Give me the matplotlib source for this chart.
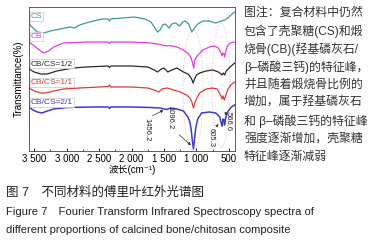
import matplotlib.pyplot as plt
from matplotlib.patches import Ellipse
import numpy as np

plt.rcParams["font.family"] = ["Liberation Sans", "Noto Sans CJK SC", "DejaVu Sans"]

W, H = 381, 243

# wavenumber (cm-1) and transmittance (arbitrary, offset per curve)
cs_wn = [3580, 3520, 3450, 3350, 3250, 3100, 2950, 2880, 2800, 2650, 2450, 2360, 2340, 2320, 2150,
         1950, 1800, 1700, 1650, 1600, 1560, 1520, 1480, 1420, 1380, 1320, 1260, 1210, 1170, 1120,
         1070, 1030, 980, 900, 800, 700, 620, 560, 500, 450, 410]
cs_y = [24, 28, 32, 33, 31, 29, 27, 28, 25, 22, 19, 19, 21, 19, 18,
        17, 19, 22, 27, 32, 30, 25, 24, 28, 24, 23, 26, 22, 21, 24,
        32, 28, 24, 21, 21, 23, 21, 20, 17, 14, 12]

cb_wn = [3580, 3500, 3420, 3350, 3280, 3200, 3050, 2700, 2360, 2340, 2320, 2000, 1700, 1600, 1460,
         1420, 1300, 1200, 1120, 1080, 1060, 1040, 1025, 1000, 960, 900, 800, 720, 660, 620,
         605, 590, 575, 565, 555, 530, 480, 410]
cb_y = [42, 46, 50, 53, 51, 47, 43, 42, 42, 43.5, 42, 42, 43, 44, 46,
        45.5, 47, 50, 54, 58, 63, 68, 60, 57, 54, 50, 47, 46, 48, 53,
        56, 53, 54, 57, 54, 47, 43, 42]

r12_wn = [3580, 3500, 3400, 3300, 3150, 2900, 2700, 2360, 2340, 2320, 2000, 1750, 1650, 1600, 1540,
          1500, 1440, 1380, 1300, 1250, 1200, 1130, 1080, 1050, 1035, 1000, 950, 850, 750, 660,
          620, 605, 585, 565, 540, 480, 410]
r12_y = [69, 72, 74, 74, 71, 68, 67, 66, 67.5, 66, 66, 67, 70, 72, 69,
         68, 72, 70, 68, 70, 72, 74, 78, 83, 80, 75, 73, 71, 70, 72,
         74, 75, 73, 75, 71, 67, 63]

r11_wn = [3580, 3500, 3400, 3330, 3200, 3050, 2800, 2500, 2360, 2340, 2320, 2000, 1750, 1650, 1580,
          1530, 1450, 1350, 1250, 1150, 1100, 1070, 1045, 1025, 1000, 950, 850, 750, 680, 620,
          605, 590, 570, 555, 520, 470, 410]
r11_y = [88, 91, 93, 93, 91, 89, 88, 87, 86.5, 85, 87, 87, 88, 90, 92,
         89, 88, 90, 92, 95, 98, 102, 108, 103, 99, 93, 89, 88, 89, 96,
         99, 96, 100, 97, 90, 85, 82]

r21_wn = [3580, 3520, 3450, 3380, 3300, 3200, 3000, 2600, 2360, 2340, 2320, 2000, 1700, 1560, 1500,
          1456, 1400, 1300, 1200, 1130, 1100, 1080, 1060, 1045, 1030, 1010, 980, 920, 800, 700,
          640, 615, 605, 590, 575, 566, 550, 510, 460, 410]
r21_y = [107, 110, 112, 113, 111, 109, 107.5, 107, 107, 108.5, 107, 107, 107.5, 108, 109,
         109.5, 108, 109, 111, 117, 122, 130, 142, 149, 140, 128, 119, 113, 112, 113,
         117, 124, 126, 119, 120, 125, 118, 111, 107, 105]

series = [
    ("CS", cs_wn, cs_y, "#3a9d92"),
    ("CB", cb_wn, cb_y, "#e23ce2"),
    ("CB/CS=1/2", r12_wn, r12_y, "#2a2a2a"),
    ("CB/CS=1/1", r11_wn, r11_y, "#e03a3a"),
    ("CB/CS=2/1", r21_wn, r21_y, "#3b3bd6"),
]
label_y = [16.5, 36.5, 64, 83, 103]

xticks = [3500, 3000, 2500, 2000, 1500, 1000, 500]
xtick_labels = ["3 500", "3 000", "2 500", "2 000", "1 500", "1 000", "500"]

peaks = ["1456.2", "1096.2", "605.3", "566.6"]
peak_text_pos = [(1760, 130), (1406, 118), (774, 137), (512, 122)]
peak_arrow = [((1714, 117), (1470, 109)), ((1298, 133), (1051, 147)),
              ((713, 128), (630, 122)), ((540, 112), (575, 118))]

note_lines = [
    "图注：复合材料中仍然",
    "包含了壳聚糖(CS)和煅",
    "烧骨(CB)(羟基磷灰石/",
    "β–磷酸三钙)的特征峰，",
    "并且随着煅烧骨比例的",
    "增加，属于羟基磷灰石",
    "和 β–磷酸三钙的特征峰",
    "强度逐渐增加，壳聚糖",
    "特征峰逐渐减弱",
]

fig = plt.figure(figsize=(W / 100, H / 100), dpi=100)
ax = fig.add_axes([29 / W, 1 - 151 / H, 206 / W, 144 / H])

for (name, wn, y, color), ly in zip(series, label_y):
    lw = 1.1 if name == "CB/CS=2/1" else 0.9
    ax.plot(wn, 151 - np.array(y), color=color, lw=lw)
    ax.text(3555, 151 - ly, name, color=color, fontsize=6, va="center", ha="left",
            bbox=dict(boxstyle="square,pad=0.12", fc="white", ec="#c8c8c8", lw=0.5))

# faint dotted rings round the phosphate bands
for cx, cy, w, h in [(1051, 61, 310, 122), (620, 66, 280, 124)]:
    ax.add_patch(Ellipse((cx, cy), w, h, fill=False, ec="#f2b6c6", ls=":", lw=0.7))

for txt, (tx, ty), (start, end) in zip(peaks, peak_text_pos, peak_arrow):
    ax.text(tx, 151 - ty, txt, rotation=-90, fontsize=5.5, ha="center", va="center", color="#222222")
    ax.annotate("", xy=(end[0], 151 - end[1]), xytext=(start[0], 151 - start[1]),
                arrowprops=dict(arrowstyle="-|>", color="#333333", lw=0.5, mutation_scale=4))

ax.set_xlim(3580, 405)
ax.set_ylim(0, 144)
ax.set_xticks(xticks)
ax.set_xticklabels(xtick_labels)
ax.set_xticks([3250, 2750, 2250, 1750, 1250, 750], minor=True)
ax.set_yticks([])
ax.tick_params(axis="x", direction="in", labelsize=7, length=2.5, width=0.6, pad=2)
ax.tick_params(axis="x", which="minor", direction="in", length=1.5, width=0.5)
for sp in ax.spines.values():
    sp.set_linewidth(0.6)
    sp.set_color("#444444")
ax.set_xlabel("波长(cm⁻¹)", fontsize=7, labelpad=1)
ax.set_ylabel("Transmittance(%)", fontsize=7, labelpad=4)

for i, line in enumerate(note_lines):
    fig.text(244 / W, 1 - (13 + 18 * i) / H, line, fontsize=8.6, va="center", ha="left", color="#333333")

fig.text(6 / W, 1 - 193 / H, "图 7　不同材料的傅里叶红外光谱图", fontsize=9, va="center", color="#222222")
fig.text(6 / W, 1 - 212 / H, "Figure 7　Fourier Transform Infrared Spectroscopy spectra of",
         fontsize=8.1, va="center", color="#222222")
fig.text(6 / W, 1 - 230 / H, "different proportions of calcined bone/chitosan composite",
         fontsize=8.1, va="center", color="#222222")

fig.savefig("out.png", dpi=100)
